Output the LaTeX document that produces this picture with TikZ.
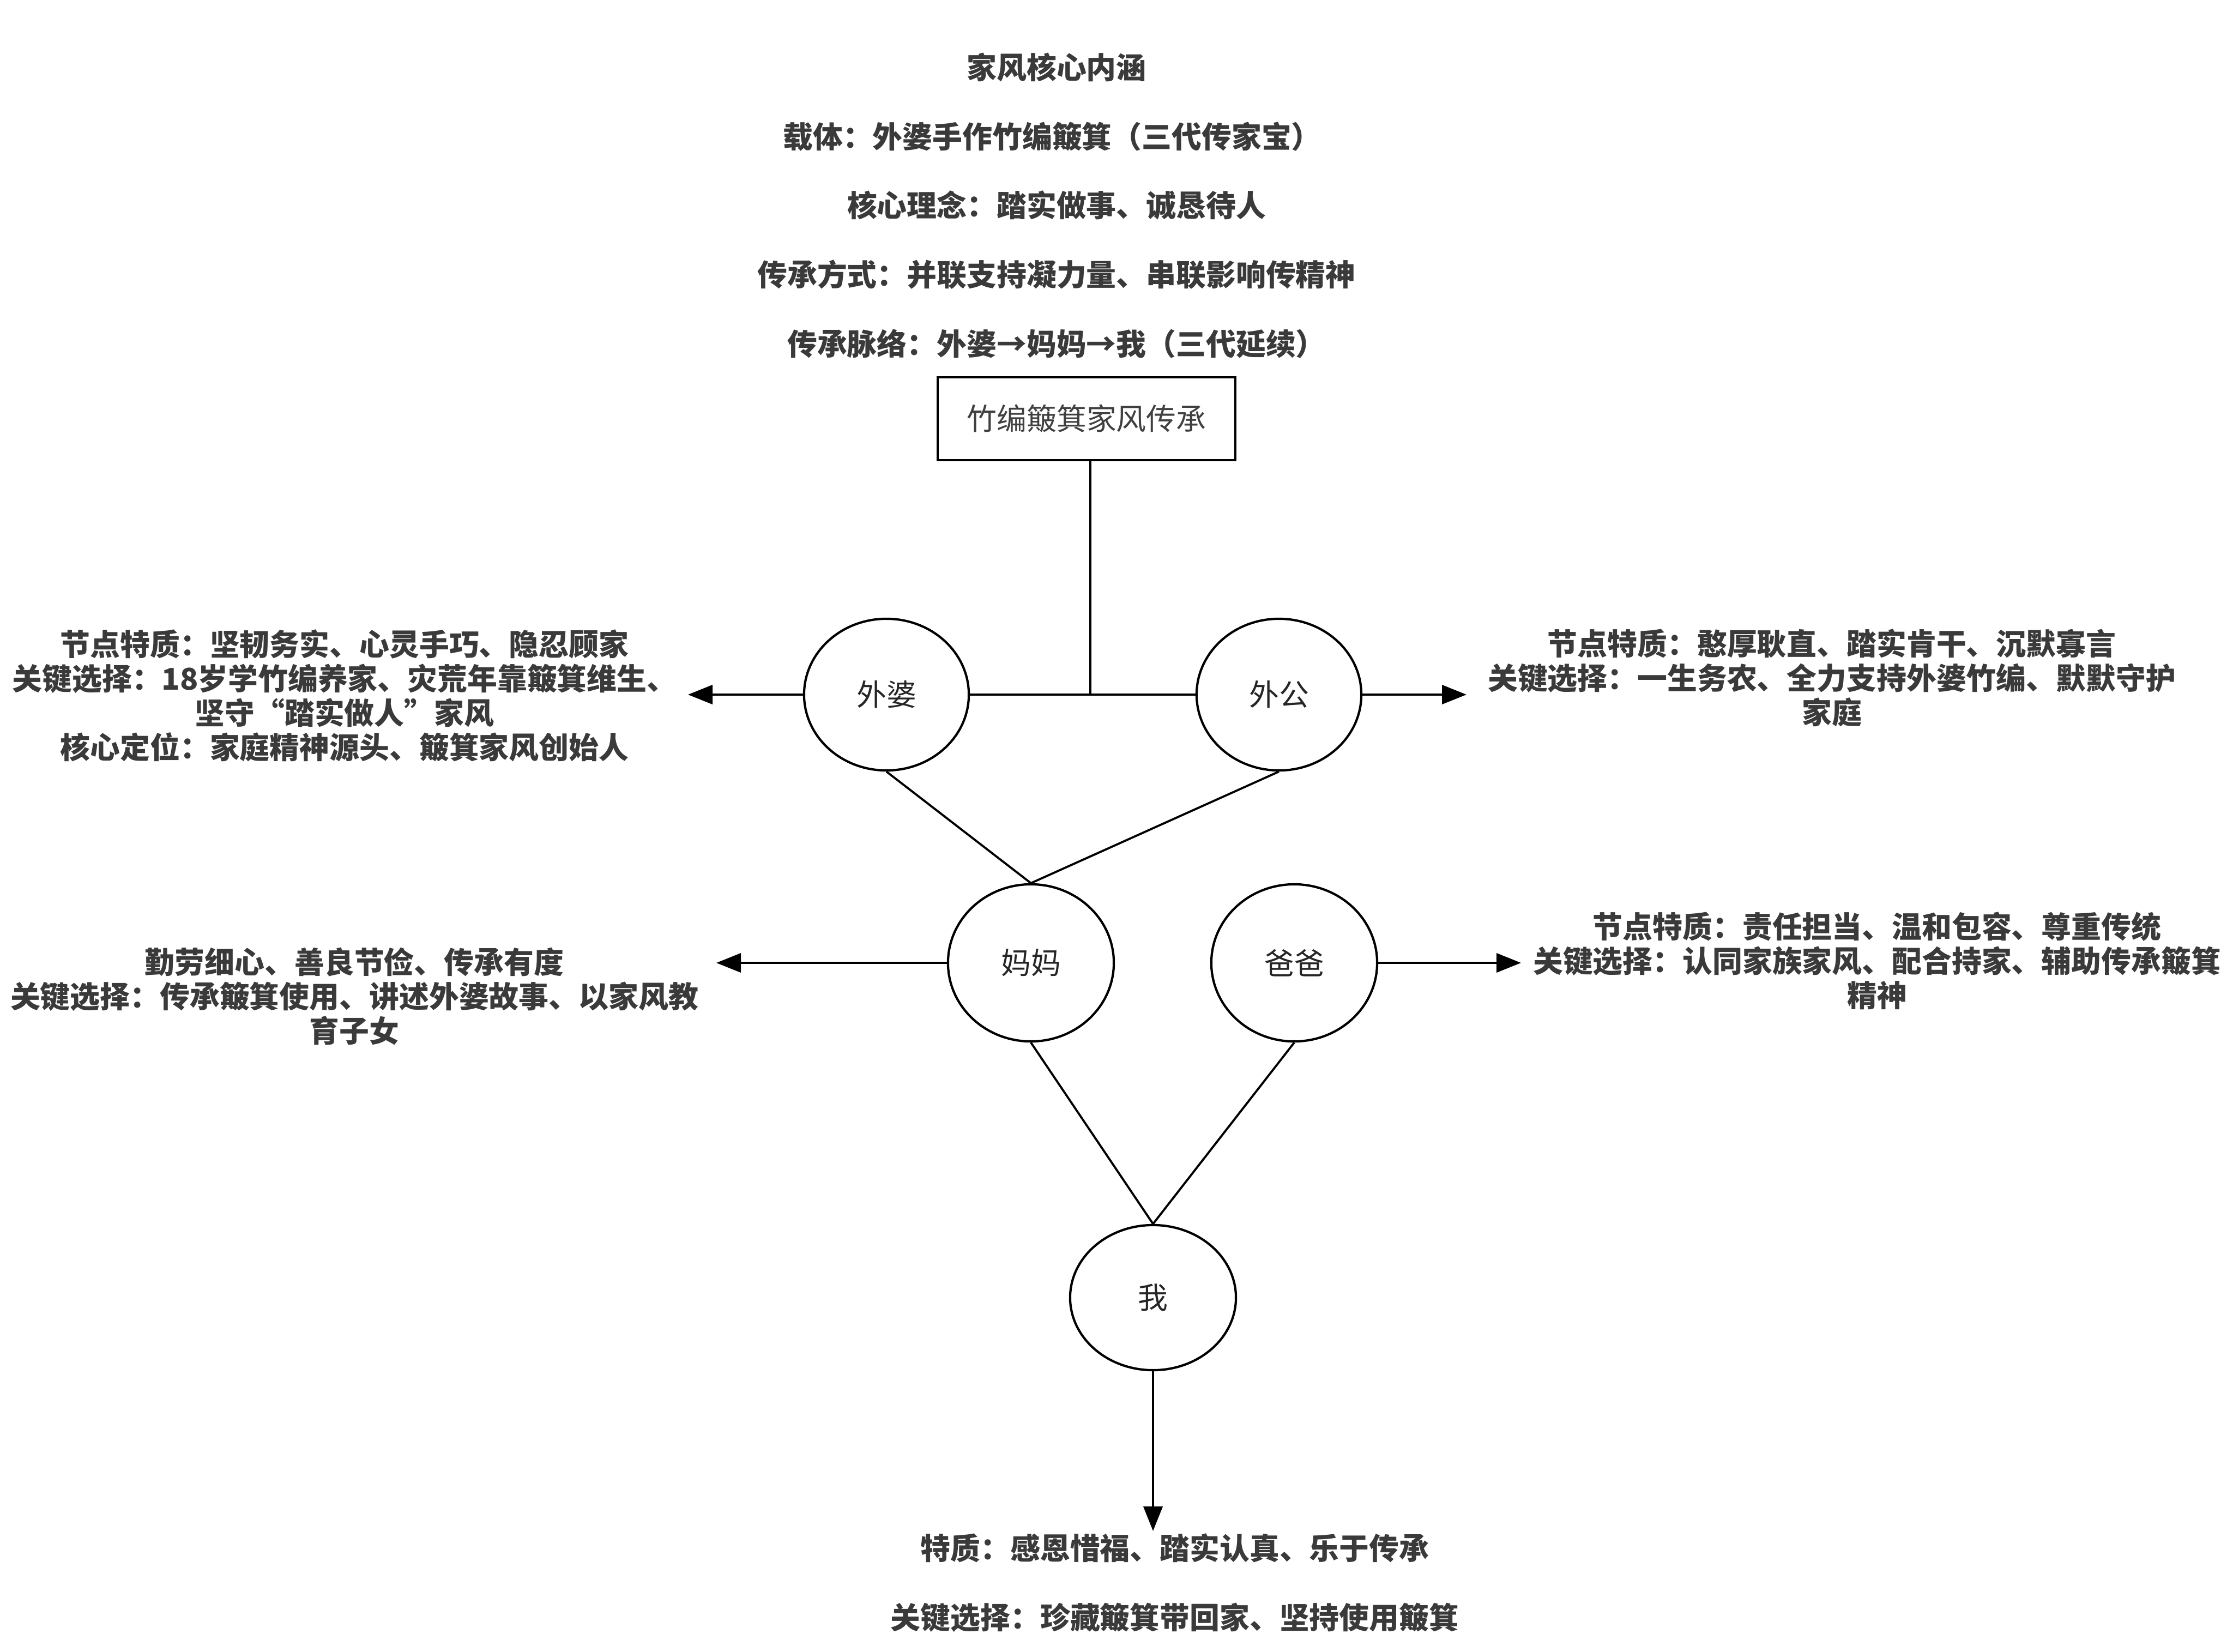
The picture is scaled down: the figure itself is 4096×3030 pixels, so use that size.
\documentclass[tikz,border=0pt]{standalone}
\usepackage{fontspec}
\setmainfont{Noto Sans CJK SC}
\usetikzlibrary{shapes.geometric,arrows.meta}
\definecolor{txt}{HTML}{3A3A3A}
\begin{document}
\begin{tikzpicture}[x=0.01cm,y=-0.01cm,
  lbl/.style={font=\fontsize{15.6pt}{17.9pt}\selectfont\bfseries, text=txt, align=center, inner sep=0pt},
  pnode/.style={ellipse, draw, line width=1.2pt, inner sep=0pt, minimum width=3.02cm, minimum height=2.78cm,
    font=\fontsize{15.6pt}{18pt}\selectfont, text=black!85},
  topbox/.style={rectangle, draw, line width=1.1pt, inner sep=0pt, minimum width=5.45cm, minimum height=1.52cm,
    font=\fontsize{15.6pt}{18pt}\selectfont, text=black!75},
  link/.style={line width=1.1pt},
  arr/.style={line width=1.1pt, -{Triangle[length=0.45cm,width=0.35cm]}}]
\path[use as bounding box, fill=white] (0,0) rectangle (4096,3030);

% top texts
\node[lbl] (t1) at (1938,123) {家风核心内涵};
\node[lbl] (t2) at (1930,251) {载体：外婆手作竹编簸箕（三代传家宝）};
\node[lbl] (t3) at (1938,376) {核心理念：踏实做事、诚恳待人};
\node[lbl] (t4) at (1938,504) {传承方式：并联支持凝力量、串联影响传精神};
\node[lbl] (t5) at (1938,630) {传承脉络：外婆→妈妈→我（三代延续）};

% main box
\node[topbox] (box) at (1993,768) {竹编簸箕家风传承};

% people
\node[pnode] (wp) at (1626,1274) {外婆};
\node[pnode] (wg) at (2346,1274) {外公};
\node[pnode, minimum width=3.04cm, minimum height=2.88cm] (mm) at (1891,1766) {妈妈};
\node[pnode, minimum width=3.04cm, minimum height=2.88cm] (bb) at (2374,1766) {爸爸};
\node[pnode, minimum width=3.04cm, minimum height=2.66cm] (me) at (2115,2380) {我};

% arrow ends
\coordinate (j) at (2000,1274);
\coordinate (wpL) at (1262,1274);
\coordinate (wgR) at (2690,1274);
\coordinate (mmL) at (1314,1766);
\coordinate (bbR) at (2790,1766);
\coordinate (meD) at (2115,2808);

% connectors
\draw[link] (j |- box.south) -- (j);
\draw[link] (wp.east) -- (wg.west);
\draw[arr] (wp.west) -- (wpL);
\draw[arr] (wg.east) -- (wgR);
\draw[link] (wp.south) -- (mm.north);
\draw[link] (wg.south) -- (mm.north);
\draw[arr] (mm.west) -- (mmL);
\draw[arr] (bb.east) -- (bbR);
\draw[link] (mm.south) -- (me.north);
\draw[link] (bb.south) -- (me.north);
\draw[arr] (me.south) -- (meD);

% side labels
\node[lbl] (lwp) at (632,1276) {节点特质：坚韧务实、心灵手巧、隐忍顾家\\关键选择：18岁学竹编养家、灾荒年靠簸箕维生、\\坚守“踏实做人”家风\\核心定位：家庭精神源头、簸箕家风创始人};
\node[lbl] (lwg) at (3360,1243) {节点特质：憨厚耿直、踏实肯干、沉默寡言\\关键选择：一生务农、全力支持外婆竹编、默默守护\\家庭};
\node[lbl] (lmm) at (650,1827) {勤劳细心、善良节俭、传承有度\\关键选择：传承簸箕使用、讲述外婆故事、以家风教\\育子女};
\node[lbl] (lbb) at (3443,1762) {节点特质：责任担当、温和包容、尊重传统\\关键选择：认同家族家风、配合持家、辅助传承簸箕\\精神};
\node[lbl] (lme1) at (2155,2839) {特质：感恩惜福、踏实认真、乐于传承};
\node[lbl] (lme2) at (2155,2967) {关键选择：珍藏簸箕带回家、坚持使用簸箕};
\end{tikzpicture}
\end{document}
